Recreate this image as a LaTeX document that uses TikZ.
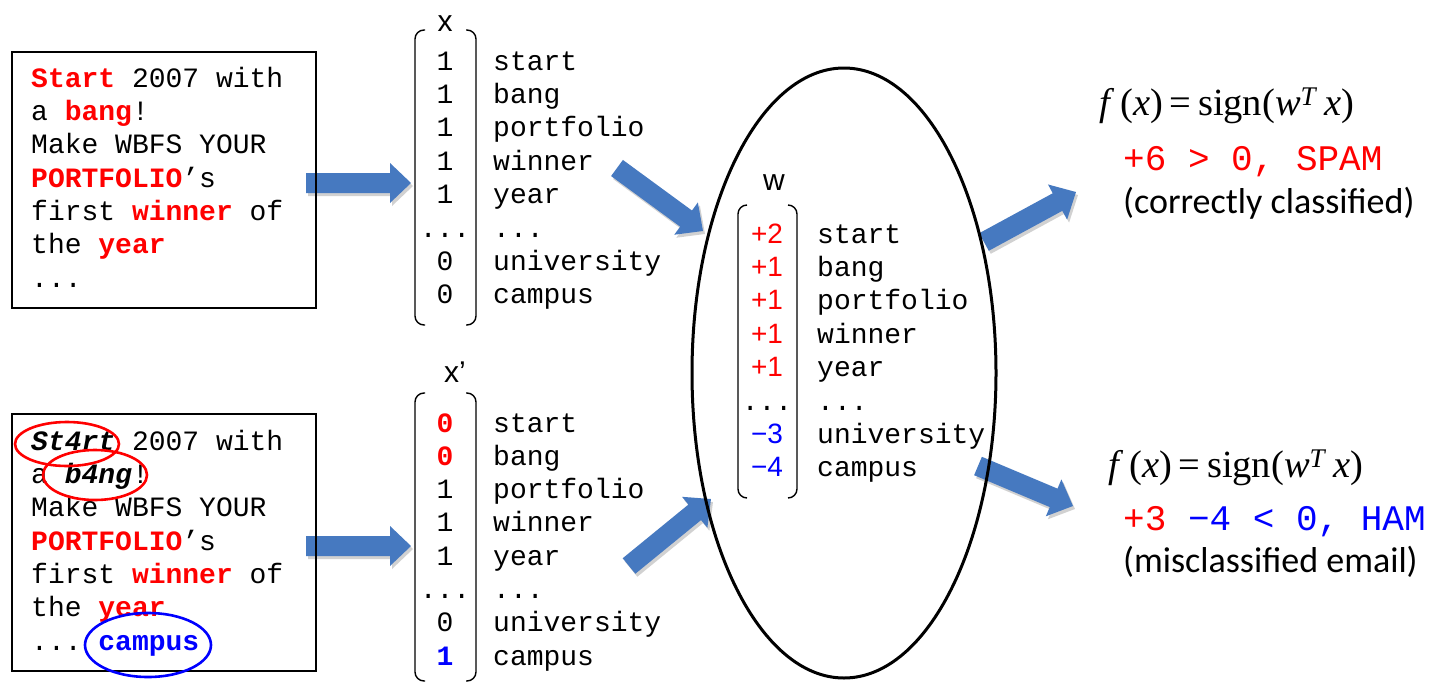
\documentclass[tikz,border=0pt]{standalone}
\usepackage{fontspec}
\setmainfont{Liberation Serif}
\setsansfont{Liberation Sans}
\setmonofont{Liberation Mono}
\newfontfamily\calib{Carlito}
\usetikzlibrary{shapes.geometric}

\definecolor{spamred}{RGB}{255,0,0}
\definecolor{hamblue}{RGB}{0,0,255}
\definecolor{arrowblue}{RGB}{70,121,192}

% highlighted words in the e-mails
\newcommand\kw[1]{\textcolor{spamred}{\bfseries #1}}
\newcommand\obf[1]{{\bfseries\itshape #1}}
\newcommand\rz{\textcolor{spamred}{\bfseries 0}}
\newcommand\bo{\textcolor{hamblue}{\bfseries 1}}
\newcommand\tdots{...}

% thick block arrow between two named coordinates
\newcommand\blockarrow[2]{%
  \path (#1); \pgfgetlastxy\ax\ay
  \path (#2); \pgfgetlastxy\bx\by
  \pgfmathsetmacro\arrang{atan2(\by-\ay,\bx-\ax)}%
  \pgfmathsetmacro\arrlen{veclen(\bx-\ax,\by-\ay)}%
  \begin{scope}[shift={(\ax+2pt,\ay-3pt)}, rotate=\arrang, x=1pt, y=1pt]
    \fill[black, opacity=0.18] (0,-10) -- (\arrlen-21,-10) -- (\arrlen-21,-20)
      -- (\arrlen,0) -- (\arrlen-21,20) -- (\arrlen-21,10) -- (0,10) -- cycle;
  \end{scope}
  \begin{scope}[shift={(\ax,\ay)}, rotate=\arrang, x=1pt, y=1pt]
    \fill[arrowblue] (0,-10) -- (\arrlen-21,-10) -- (\arrlen-21,-20)
      -- (\arrlen,0) -- (\arrlen-21,20) -- (\arrlen-21,10) -- (0,10) -- cycle;
  \end{scope}}

\begin{document}
\begin{tikzpicture}[x=1pt, y=-1pt,
  line/.style={inner sep=0pt, anchor=base west, font=\ttfamily\fontsize{28}{33}\selectfont},
  num/.style={inner sep=0pt, anchor=base, font=\ttfamily\fontsize{28}{33}\selectfont},
  wnum/.style={inner sep=0pt, anchor=base, font=\sffamily\fontsize{28}{33}\selectfont},
  vlabel/.style={inner sep=0pt, anchor=base, font=\sffamily\fontsize{30}{33}\selectfont},
  brk/.style={line width=1.4pt, rounded corners=9pt},
  mailbox/.style={draw, line width=1.6pt, inner sep=0pt, anchor=north west},
  ring/.style={ellipse, draw, line width=2.6pt, inner sep=0pt},
  formula/.style={inner sep=0pt, anchor=base west, font=\fontsize{38.5}{42}\selectfont},
  verdict/.style={inner sep=0pt, anchor=base west, font=\ttfamily\fontsize{36}{40}\selectfont},
  remark/.style={inner sep=0pt, anchor=base west, font=\calib\fontsize{36}{40}\selectfont}]

\useasboundingbox (0,0) rectangle (1430,683);
\fill[white] (0,0) rectangle (1430,683);

% arrow end points
\coordinate (a1s) at (306,183);  \coordinate (a1e) at (411,183);
\coordinate (a2s) at (306,546);  \coordinate (a2e) at (411,546);
\coordinate (a3s) at (617,168);  \coordinate (a3e) at (703,231);
\coordinate (a4s) at (629,566);  \coordinate (a4e) at (711,499);
\coordinate (a5s) at (984,242);  \coordinate (a5e) at (1076,192);
\coordinate (a6s) at (978,466);  \coordinate (a6e) at (1073,506);

\blockarrow{a1s}{a1e}
\blockarrow{a2s}{a2e}
\blockarrow{a3s}{a3e}
\blockarrow{a4s}{a4e}
\blockarrow{a5s}{a5e}
\blockarrow{a6s}{a6e}

% spam e-mail
\node[mailbox, minimum width=304, minimum height=256] (mail1) at (11,51) {};
\node[line] (m1l1) at (31,87)    {\kw{Start} 2007 with};
\node[line] (m1l2) at (31,120.3) {a \kw{bang}!};
\node[line] (m1l3) at (31,153.6) {Make WBFS YOUR};
\node[line] (m1l4) at (31,187)   {\kw{PORTFOLIO}’s};
\node[line] (m1l5) at (31,220.3) {first \kw{winner} of};
\node[line] (m1l6) at (31,253.6) {the \kw{year}};
\node[line] (m1l7) at (31,287)   {...};

% obfuscated e-mail
\node[mailbox, minimum width=304, minimum height=257] (mail2) at (11,413) {};
\node[line] (m2l1) at (31,450)   {\obf{St4rt} 2007 with};
\node[line] (m2l2) at (31,483.3) {a \obf{b4ng}!};
\node[line] (m2l3) at (31,516.6) {Make WBFS YOUR};
\node[line] (m2l4) at (31,550)   {\kw{PORTFOLIO}’s};
\node[line] (m2l5) at (31,583.3) {first \kw{winner} of};
\node[line] (m2l6) at (31,616.6) {the \kw{year}};
\node[line] (m2l7) at (31,650)   {... \textcolor{hamblue}{\bfseries campus}};
\node[ring, draw=spamred, minimum width=104, minimum height=44] (ring1) at (67,444) {};
\node[ring, draw=spamred, minimum width=104, minimum height=50] (ring2) at (95,475) {};
\node[ring, draw=hamblue, minimum width=126, minimum height=64] (ring3) at (148,645) {};

% feature vector x
\node[vlabel] (xlab) at (445,31) {x};
\draw[brk] (425,30) -- (415,30) -- (415,325) -- (425,325);
\draw[brk] (466,30) -- (476,30) -- (476,325) -- (466,325);
\foreach \v [count=\i from 0] in {1,1,1,1,1,\tdots,0,0}
  \node[num] (xv\i) at (445,{70+33.4*\i}) {\v};
\foreach \w [count=\i from 0] in {start,bang,portfolio,winner,year,\tdots,university,campus}
  \node[line] (xw\i) at (493,{70+33.4*\i}) {\w};

% feature vector x'
\node[vlabel] (xplab) at (455,382) {x’};
\draw[brk] (425,393) -- (415,393) -- (415,681) -- (425,681);
\draw[brk] (466,393) -- (476,393) -- (476,681) -- (466,681);
\foreach \v [count=\i from 0] in {\rz,\rz,1,1,1,\tdots,0,\bo}
  \node[num] (pv\i) at (445,{432+33.3*\i}) {\v};
\foreach \w [count=\i from 0] in {start,bang,portfolio,winner,year,\tdots,university,campus}
  \node[line] (pw\i) at (493,{432+33.3*\i}) {\w};

% weight vector w
\node[vlabel] (wlab) at (774,190) {w};
\draw[brk] (747,205) -- (738,205) -- (738,498) -- (747,498);
\draw[brk] (788,205) -- (797,205) -- (797,498) -- (788,498);
\foreach \v [count=\i from 0] in {\textcolor{spamred}{+2},\textcolor{spamred}{+1},
    \textcolor{spamred}{+1},\textcolor{spamred}{+1},\textcolor{spamred}{+1}}
  \node[wnum] (wv\i) at (767,{243+33.4*\i}) {\v};
\node[num] (wv5) at (767,410) {...};
\node[wnum] (wv6) at (767,443.4) {\textcolor{hamblue}{−3}};
\node[wnum] (wv7) at (767,476.8) {\textcolor{hamblue}{−4}};
\foreach \w [count=\i from 0] in {start,bang,portfolio,winner,year,\tdots,university,campus}
  \node[line] (ww\i) at (817,{243+33.4*\i}) {\w};
\node[ellipse, draw, line width=3pt, minimum width=304, minimum height=610, inner sep=0pt] (model) at (844,373) {};

% decisions
\node[formula] (f1) at (1099,115) {\textit{f}\,(\textit{x})\,=\,sign(\textit{w}\textsuperscript{\textit{T}}\,\textit{x})};
\node[verdict, text=spamred] (v1) at (1123,170) {+6 > 0, SPAM};
\node[remark] (r1) at (1123,213) {(correctly classified)};

\node[formula] (f2) at (1108,477) {\textit{f}\,(\textit{x})\,=\,sign(\textit{w}\textsuperscript{\textit{T}}\,\textit{x})};
\node[verdict] (v2) at (1123,530) {\textcolor{spamred}{+3} \textcolor{hamblue}{−4 < 0, HAM}};
\node[remark] (r2) at (1123,572) {(misclassified email)};
\end{tikzpicture}
\end{document}
